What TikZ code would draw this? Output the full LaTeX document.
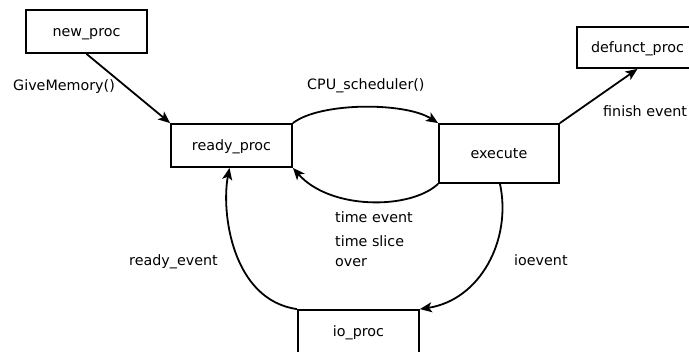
\documentclass[tikz,border=0pt]{standalone}
\usepackage{fontspec}
\setmainfont{DejaVu Sans}
\usetikzlibrary{arrows.meta,calc}
\begin{document}
\begin{tikzpicture}[x=1pt,y=-1pt,
  every node/.style={font=\fontsize{14.3}{20}\selectfont},
  state/.style={draw,line width=1.8pt,minimum width=121pt,minimum height=43pt,
    inner sep=0pt,text height=14pt,text depth=3pt},
  flow/.style={line width=1.8pt,-{Stealth[length=12pt,width=10pt,inset=3pt]}},
  lbl/.style={inner sep=0pt,anchor=base west}]
\useasboundingbox (0,0) rectangle (689,352);
\clip (0,0) rectangle (689,352);

% process states
\node[state] (new)     at (86.5,31.5)  {new\_proc};
\node[state] (ready)   at (231.5,145.5) {ready\_proc};
\node[state,minimum width=120pt,minimum height=59pt] (exec) at (499,153.5) {execute};
\node[state,minimum height=41pt] (defunct) at (637.5,47.5) {defunct\_proc};
\node[state] (io)      at (358.5,331.5) {io\_proc};

% transitions
\draw[flow] (new.south) -- (ready.north west);
\draw[flow] (ready.north east) .. controls (320,102) and (405,102) .. (exec.north west);
\draw[flow] (exec.south west) .. controls (410,210) and (330,210) .. (ready.south east);
\draw[flow] (exec.north east) -- (defunct.south);
\draw[flow] ($(exec.south)+(1,0)$) .. controls (512,240) and (480,300) .. (io.north east);
\draw[flow] (io.north west) .. controls (232,300) and (221,212) .. ($(ready.south)+(-2,0)$);

% transition labels
\node[lbl] (lgive)  at (13,91)   {GiveMemory()};
\node[lbl] (lcpu)   at (307,90)  {CPU\_scheduler()};
\node[lbl] (lfin)   at (603,117) {finish event};
\node[lbl] (ltime)  at (335,223) {time event};
\node[inner sep=0pt,anchor=north west,align=left] (lslice) at (335,235) {time slice\\over};
\node[lbl] (lready) at (129,266) {ready\_event};
\node[lbl] (lio)    at (514,266) {ioevent};
\end{tikzpicture}
\end{document}
